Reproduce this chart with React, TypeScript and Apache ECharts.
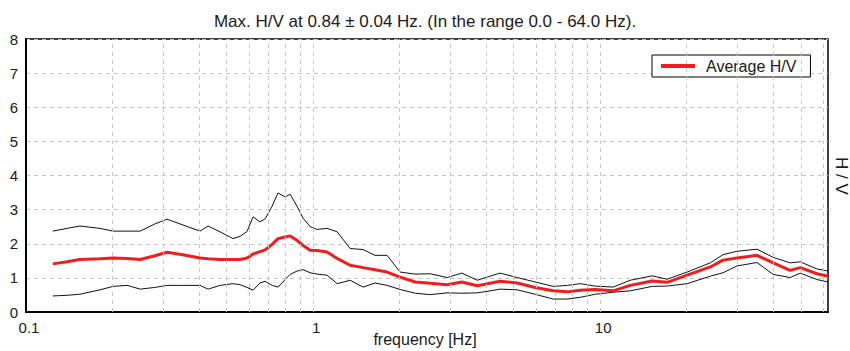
import React, { useEffect, useRef } from "react";
import * as echarts from "echarts";

const titleText = "Max. H/V at 0.84 \u00b1 0.04 Hz. (In the range 0.0 - 64.0 Hz).";
const xName = "frequency [Hz]";
const yName = "H / V";
const legendName = "Average H/V";

const freq = [0.124, 0.139, 0.154, 0.181, 0.201, 0.225, 0.25, 0.281, 0.31, 0.352, 0.404, 0.431, 0.474, 0.526, 0.557, 0.589, 0.618, 0.653, 0.681, 0.72, 0.755, 0.799, 0.832, 0.879, 0.923, 0.977, 1.032, 1.119, 1.213, 1.346, 1.494, 1.644, 1.811, 2.01, 2.27, 2.56, 2.93, 3.3, 3.73, 4.14, 4.48, 5.14, 5.94, 6.86, 7.68, 8.52, 9.61, 11.1, 12.73, 15.18, 17.11, 20.09, 24.2, 26.8, 30.0, 35.2, 40.1, 45.9, 49.8, 57.0, 62.2];
const average = [1.41, 1.47, 1.54, 1.56, 1.58, 1.57, 1.54, 1.65, 1.75, 1.68, 1.58, 1.56, 1.54, 1.54, 1.54, 1.58, 1.7, 1.77, 1.82, 1.98, 2.15, 2.2, 2.23, 2.1, 1.95, 1.81, 1.8, 1.76, 1.57, 1.37, 1.3, 1.24, 1.17, 1.02, 0.88, 0.84, 0.8, 0.88, 0.77, 0.84, 0.9, 0.85, 0.72, 0.62, 0.59, 0.64, 0.66, 0.62, 0.78, 0.91, 0.87, 1.08, 1.32, 1.52, 1.58, 1.66, 1.44, 1.22, 1.3, 1.12, 1.05];
const upper = [2.37, 2.45, 2.52, 2.45, 2.37, 2.37, 2.37, 2.58, 2.72, 2.55, 2.37, 2.52, 2.35, 2.15, 2.22, 2.36, 2.79, 2.64, 2.73, 3.1, 3.49, 3.37, 3.45, 3.1, 2.75, 2.5, 2.42, 2.45, 2.35, 1.86, 1.83, 1.66, 1.66, 1.17, 1.11, 1.12, 1.01, 1.14, 0.93, 1.05, 1.14, 1.01, 0.88, 0.75, 0.78, 0.83, 0.76, 0.73, 0.93, 1.06, 0.96, 1.17, 1.44, 1.68, 1.78, 1.84, 1.6, 1.44, 1.47, 1.26, 1.2];
const lower = [0.47, 0.49, 0.52, 0.65, 0.75, 0.78, 0.67, 0.72, 0.78, 0.78, 0.78, 0.67, 0.78, 0.83, 0.8, 0.72, 0.64, 0.85, 0.9, 0.78, 0.73, 0.95, 1.1, 1.2, 1.24, 1.15, 1.11, 1.08, 0.83, 0.93, 0.73, 0.85, 0.78, 0.66, 0.55, 0.51, 0.56, 0.55, 0.56, 0.62, 0.67, 0.65, 0.52, 0.38, 0.38, 0.43, 0.52, 0.58, 0.62, 0.75, 0.76, 0.83, 1.05, 1.15, 1.35, 1.45, 1.1, 1.01, 1.14, 0.95, 0.88];
const minorGrid = [0.2, 0.3, 0.4, 0.5, 0.6, 0.7, 0.8, 0.9, 1, 2, 3, 4, 5, 6, 7, 8, 9, 10, 20, 30, 40, 50, 60];

const FONT = "Liberation Sans, Arial, sans-serif";

export default function App() {
  const ref = useRef<HTMLDivElement>(null);
  useEffect(() => {
    if (!ref.current) return;
    const chart = echarts.init(ref.current, null, { renderer: "svg" });
    const pairs = (ys: number[]) => freq.map((f, i) => [f, ys[i]]);
    chart.setOption({
      animation: false,
      backgroundColor: "#fff",
      title: {
        text: titleText,
        left: "center",
        top: 8,
        textStyle: { fontFamily: FONT, fontSize: 17, fontWeight: "normal", color: "#1a1a1a" },
      },
      legend: {
        data: [{ name: legendName, icon: "rect" }],
        left: 652,
        top: 55,
        itemWidth: 34,
        itemHeight: 4,
        padding: [3, 14, 3, 9],
        borderColor: "#000",
        borderWidth: 1,
        backgroundColor: "#fff",
        itemGap: 10,
        textStyle: { fontFamily: FONT, fontSize: 16, color: "#1a1a1a", padding: [0, 0, 0, 6] },
      },
      grid: {
        left: 26,
        right: 22,
        top: 39,
        bottom: 39,
        show: true,
        borderColor: "#000",
        borderWidth: 1.5,
        backgroundColor: "#fff",
      },
      xAxis: {
        type: "log",
        logBase: 10,
        min: 0.1,
        max: 62.2,
        axisLine: { show: true, lineStyle: { color: "#000", width: 2 } },
        axisTick: { show: false },
        splitLine: { show: false },
        axisLabel: {
          fontFamily: FONT,
          fontSize: 15,
          color: "#1a1a1a",
          margin: 8,
          padding: [0, 0, 0, 6],
          showMaxLabel: false,
        },
      },
      yAxis: {
        type: "value",
        min: 0,
        max: 8,
        interval: 1,
        axisLine: { show: true, lineStyle: { color: "#000", width: 2 } },
        axisTick: { show: false },
        splitLine: { show: true, lineStyle: { color: "#c4c4c4", type: [4, 4], width: 1 } },
        axisLabel: { fontFamily: FONT, fontSize: 15, color: "#1a1a1a", margin: 8 },
      },
      graphic: [
        {
          type: "text",
          left: "center",
          top: 331,
          style: { text: xName, font: `16px ${FONT}`, fill: "#1a1a1a" },
        },
        {
          type: "text",
          x: 850,
          y: 157,
          rotation: -Math.PI / 2,
          style: { text: yName, font: `17px ${FONT}`, fill: "#1a1a1a" },
        },
      ],
      series: [
        {
          name: "grid",
          type: "line",
          data: [],
          silent: true,
          markLine: {
            silent: true,
            symbol: "none",
            label: { show: false },
            lineStyle: { color: "#c4c4c4", type: [4, 4], width: 1 },
            data: minorGrid.map((v) => ({ xAxis: v })),
          },
        },
        {
          name: "Upper",
          type: "line",
          data: pairs(upper),
          symbol: "none",
          lineStyle: { color: "#111", width: 1 },
          itemStyle: { color: "#111" },
        },
        {
          name: "Lower",
          type: "line",
          data: pairs(lower),
          symbol: "none",
          lineStyle: { color: "#111", width: 1 },
          itemStyle: { color: "#111" },
        },
        {
          name: legendName,
          type: "line",
          data: pairs(average),
          symbol: "none",
          lineStyle: { color: "#f21c1c", width: 3 },
          itemStyle: { color: "#f21c1c" },
          z: 3,
        },
      ],
    });
    return () => chart.dispose();
  }, []);
  return <div ref={ref} style={{ width: 850, height: 351, position: "absolute", left: 0, top: 0 }} />;
}
